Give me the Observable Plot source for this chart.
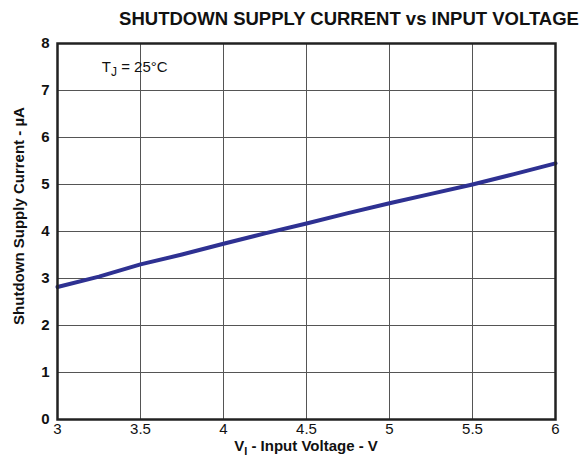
<!DOCTYPE html>
<html><head><meta charset="utf-8">
<script src="https://cdn.jsdelivr.net/npm/d3@7"></script>
<script src="https://cdn.jsdelivr.net/npm/@observablehq/plot@0.6"></script>
<style>
body{margin:0;background:#fff;font-family:"Liberation Sans",Arial,sans-serif;}
#wrap{position:relative;width:584px;height:459px;overflow:hidden;}
#title{position:absolute;left:0;top:8px;width:584px;padding-left:114px;box-sizing:border-box;text-align:center;font-weight:bold;font-size:18.5px;color:#111;white-space:nowrap;}
#chart{position:absolute;left:0;top:34px;}
#chart [aria-label="y-axis tick label"] text{font-weight:bold;}
</style>
</head><body>
<div id="wrap"><div id="title">SHUTDOWN SUPPLY CURRENT vs INPUT VOLTAGE</div><div id="chart"></div></div>
<script>
const voltage = [3, 3.25, 3.5, 3.75, 4, 4.25, 4.5, 4.75, 5, 5.25, 5.5, 5.75, 6];
const current = [2.82, 3.04, 3.30, 3.51, 3.74, 3.96, 4.17, 4.39, 4.60, 4.80, 5.00, 5.22, 5.45];
const xTicks = [3, 3.5, 4, 4.5, 5, 5.5, 6];
const yTicks = [0, 1, 2, 3, 4, 5, 6, 7, 8];

const data = voltage.map((v, i) => ({v, c: current[i]}));

const plot = Plot.plot({
  width: 584, height: 425,
  marginTop: 9, marginBottom: 40, marginLeft: 57, marginRight: 29,
  style: {fontFamily: "'Liberation Sans', Arial, sans-serif", fontSize: "15px", color: "#111", background: "#fff"},
  x: {domain: [3, 6]},
  y: {domain: [0, 8]},
  marks: [
    Plot.gridX(xTicks.slice(1, -1), {stroke: "#555", strokeOpacity: 1, strokeWidth: 1}),
    Plot.gridY(yTicks.slice(1, -1), {stroke: "#555", strokeOpacity: 1, strokeWidth: 1}),
    Plot.line(data, {x: "v", y: "c", stroke: "#2e3192", strokeWidth: 4}),
    Plot.frame({stroke: "#222", strokeWidth: 2.5}),
    Plot.axisX(xTicks, {tickSize: 0, tickPadding: 4, label: null, tickFormat: d => String(d)}),
    Plot.axisY(yTicks, {tickSize: 0, tickPadding: 8, label: null, fontWeight: "bold"})
  ]
});
document.getElementById("chart").appendChild(plot);

const sx = plot.scale("x"), sy = plot.scale("y");
const svg = d3.select(plot);
const ff = "'Liberation Sans', Arial, sans-serif";

// x-axis label with subscript
const xl = svg.append("text")
  .attr("x", (sx.apply(3) + sx.apply(6)) / 2)
  .attr("y", sy.apply(0) + 32)
  .attr("text-anchor", "middle")
  .attr("font-family", ff).attr("font-size", 15).attr("font-weight", "bold").attr("fill", "#111");
xl.append("tspan").text("V");
xl.append("tspan").attr("font-size", 11).attr("dy", 4).text("I");
xl.append("tspan").attr("dy", -4).text(" - Input Voltage - V");

// y-axis label
svg.append("text")
  .attr("transform", `translate(24,${(sy.apply(0) + sy.apply(8)) / 2 - 15}) rotate(-90)`)
  .attr("text-anchor", "middle")
  .attr("font-family", ff).attr("font-size", 15).attr("font-weight", "bold").attr("fill", "#111")
  .text("Shutdown Supply Current - µA");

// annotation T_J = 25°C
const an = svg.append("text")
  .attr("x", sx.apply(3.27))
  .attr("y", sy.apply(7.38))
  .attr("text-anchor", "start")
  .attr("font-family", ff).attr("font-size", 15).attr("fill", "#111");
an.append("tspan").text("T");
an.append("tspan").attr("font-size", 12).attr("dy", 4).text("J");
an.append("tspan").attr("dy", -4).text(" = 25°C");
</script>
</body></html>
